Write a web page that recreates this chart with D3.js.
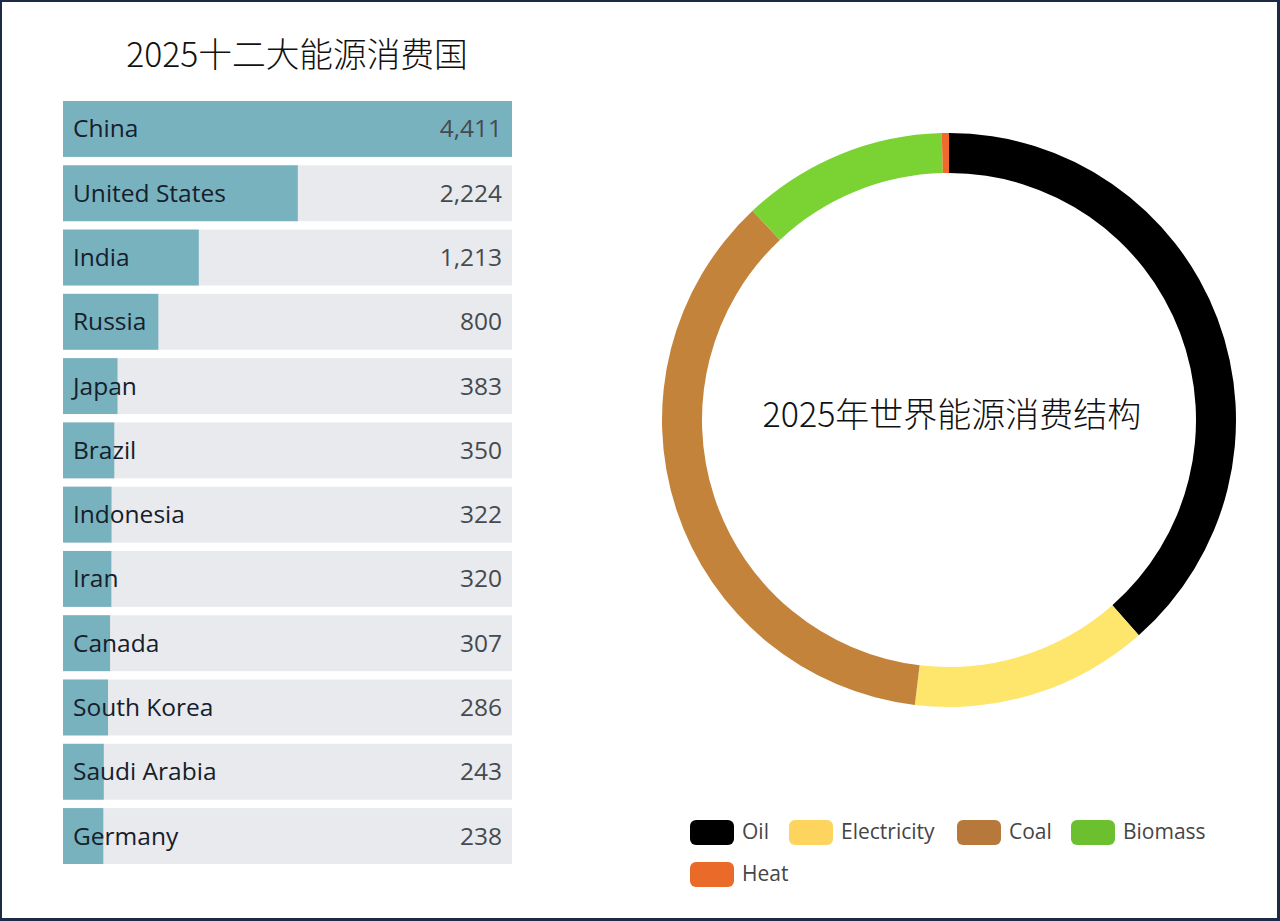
<!DOCTYPE html>
<html>
<head>
<meta charset="utf-8">
<script src="https://cdn.jsdelivr.net/npm/d3@7"></script>
<style>
  html, body { margin: 0; padding: 0; background: #fff; }
  svg { display: block; }
</style>
</head>
<body>
<svg id="chart" width="1280" height="921"></svg>
<script>
// ---- data ----
const countries = ["China","United States","India","Russia","Japan","Brazil","Indonesia","Iran","Canada","South Korea","Saudi Arabia","Germany"];
const consumption = [4411,2224,1213,800,383,350,322,320,307,286,243,238];

const sources = ["Oil","Electricity","Coal","Biomass","Heat"];
const shares = [38.5,13.4,36.1,11.6,0.4];
const ringColors = ["#000000","#fde66b","#c4833a","#7ad332","#ef6a2c"];
const legendColors = ["#000000","#fdd45e","#b6793b","#6cc02f","#ea6a2a"];

const barTitle = "2025十二大能源消费国";
const donutTitle = "2025年世界能源消费结构";

// ---- drawing ----
const svg = d3.select("#chart");
const W = 1280, H = 921;
const cjk = "'Noto Sans CJK SC', 'Noto Sans', sans-serif";
const latin = "'Open Sans', 'Noto Sans', sans-serif";

svg.append("rect").attr("width", W).attr("height", H).attr("fill", "#1d2a45");
svg.append("rect").attr("x", 2).attr("y", 2).attr("width", W - 5).attr("height", H - 5).attr("fill", "#ffffff");

// bar chart
const x0 = 63, x1 = 512;
const y = d3.scaleBand().domain(countries).range([101, 864]).paddingInner(0.13).paddingOuter(0);
const x = d3.scaleLinear().domain([0, d3.max(consumption)]).range([17, x1 - x0]);

svg.append("text")
  .attr("x", 297).attr("y", 67)
  .attr("text-anchor", "middle")
  .attr("font-family", cjk).attr("font-weight", 300).attr("font-size", 33.7).attr("fill", "#111")
  .text(barTitle);

const rows = svg.append("g").selectAll("g").data(countries).join("g")
  .attr("transform", d => `translate(${x0},${y(d)})`);

rows.append("rect")
  .attr("width", x1 - x0).attr("height", y.bandwidth())
  .attr("fill", "#e8eaed");
rows.append("rect")
  .attr("width", (d, i) => x(consumption[i])).attr("height", y.bandwidth())
  .attr("fill", "#79b2bf");
rows.append("text")
  .attr("x", 10).attr("y", y.bandwidth() / 2 - 1)
  .attr("dominant-baseline", "central")
  .attr("font-family", latin).attr("font-size", 24.5).attr("fill", "#15202b")
  .text(d => d);
rows.append("text")
  .attr("x", x1 - x0 - 10).attr("y", y.bandwidth() / 2 - 1)
  .attr("dominant-baseline", "central")
  .attr("text-anchor", "end")
  .attr("font-family", latin).attr("font-size", 24.5).attr("fill", "#454a50")
  .text((d, i) => d3.format(",")(consumption[i]));

// donut
const cx = 949, cy = 420, rOuter = 287, rInner = 247;
const pie = d3.pie().sort(null).value(d => d);
const arc = d3.arc().innerRadius(rInner).outerRadius(rOuter);
const g = svg.append("g").attr("transform", `translate(${cx},${cy})`);
g.selectAll("path").data(pie(shares)).join("path")
  .attr("d", arc)
  .attr("fill", (d, i) => ringColors[i]);

svg.append("text")
  .attr("x", 952).attr("y", 412)
  .attr("text-anchor", "middle").attr("dominant-baseline", "central")
  .attr("font-family", cjk).attr("font-weight", 300).attr("font-size", 34).attr("fill", "#111")
  .text(donutTitle);

// legend
const legendPos = [[690, 820], [789, 820], [957, 820], [1071, 820], [690, 862]];
const lg = svg.append("g").selectAll("g").data(sources).join("g")
  .attr("transform", (d, i) => `translate(${legendPos[i][0]},${legendPos[i][1]})`);
lg.append("rect")
  .attr("width", 44).attr("height", 25).attr("rx", 6).attr("ry", 6)
  .attr("fill", (d, i) => legendColors[i]);
lg.append("text")
  .attr("x", 52).attr("y", 11)
  .attr("dominant-baseline", "central")
  .attr("font-family", latin).attr("font-size", 21).attr("fill", "#454545")
  .text(d => d);
</script>
</body>
</html>
